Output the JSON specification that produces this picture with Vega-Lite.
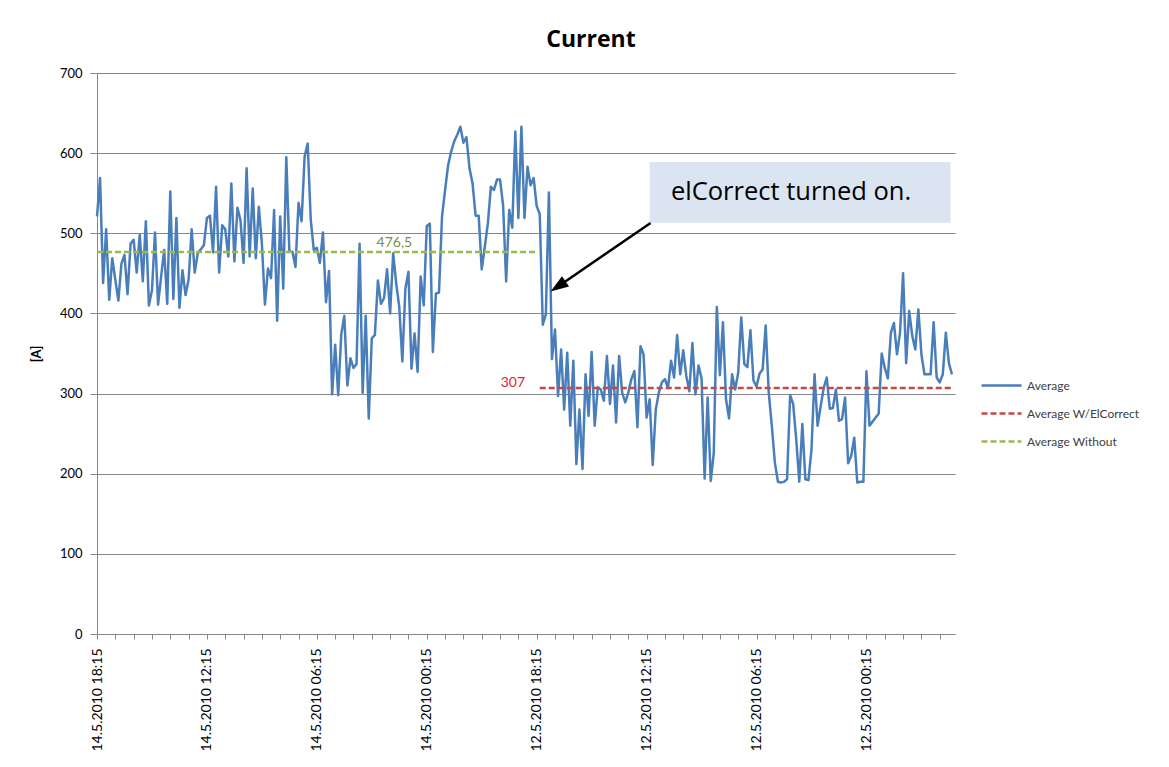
{
 "$schema": "https://vega.github.io/schema/vega-lite/v6.json",
 "width": 858,
 "height": 561,
 "autosize": {"type": "none"},
 "padding": {"left": 97, "top": 73, "right": 214, "bottom": 133},
 "background": "white",
 "title": {"text": "Current", "font": "Open Sans", "fontSize": 23, "fontWeight": "bold", "color": "#000000", "anchor": "middle", "dx": 65, "dy": 29, "baseline": "alphabetic", "offset": 26},
 "config": {"view": {"stroke": null}, "font": "Lato"},
 "datasets": {
  "cur": [
{"i":0,"v":521,"s":"Average"},{"i":1,"v":569,"s":"Average"},{"i":2,"v":438,"s":"Average"},{"i":3,"v":505,"s":"Average"},{"i":4,"v":417,"s":"Average"},{"i":5,"v":469,"s":"Average"},{"i":6,"v":442,"s":"Average"},{"i":7,"v":416,"s":"Average"},{"i":8,"v":462,"s":"Average"},{"i":9,"v":473,"s":"Average"},
{"i":10,"v":424,"s":"Average"},{"i":11,"v":487,"s":"Average"},{"i":12,"v":492,"s":"Average"},{"i":13,"v":451,"s":"Average"},{"i":14,"v":498,"s":"Average"},{"i":15,"v":440,"s":"Average"},{"i":16,"v":515,"s":"Average"},{"i":17,"v":410,"s":"Average"},{"i":18,"v":429,"s":"Average"},{"i":19,"v":501,"s":"Average"},
{"i":20,"v":411,"s":"Average"},{"i":21,"v":446,"s":"Average"},{"i":22,"v":479,"s":"Average"},{"i":23,"v":412,"s":"Average"},{"i":24,"v":552,"s":"Average"},{"i":25,"v":418,"s":"Average"},{"i":26,"v":519,"s":"Average"},{"i":27,"v":407,"s":"Average"},{"i":28,"v":454,"s":"Average"},{"i":29,"v":423,"s":"Average"},
{"i":30,"v":442,"s":"Average"},{"i":31,"v":505,"s":"Average"},{"i":32,"v":451,"s":"Average"},{"i":33,"v":475,"s":"Average"},{"i":34,"v":480,"s":"Average"},{"i":35,"v":485,"s":"Average"},{"i":36,"v":519,"s":"Average"},{"i":37,"v":522,"s":"Average"},{"i":38,"v":476,"s":"Average"},{"i":39,"v":558,"s":"Average"},
{"i":40,"v":451,"s":"Average"},{"i":41,"v":510,"s":"Average"},{"i":42,"v":505,"s":"Average"},{"i":43,"v":471,"s":"Average"},{"i":44,"v":562,"s":"Average"},{"i":45,"v":465,"s":"Average"},{"i":46,"v":532,"s":"Average"},{"i":47,"v":516,"s":"Average"},{"i":48,"v":463,"s":"Average"},{"i":49,"v":581,"s":"Average"},
{"i":50,"v":471,"s":"Average"},{"i":51,"v":556,"s":"Average"},{"i":52,"v":469,"s":"Average"},{"i":53,"v":533,"s":"Average"},{"i":54,"v":487,"s":"Average"},{"i":55,"v":411,"s":"Average"},{"i":56,"v":456,"s":"Average"},{"i":57,"v":444,"s":"Average"},{"i":58,"v":529,"s":"Average"},{"i":59,"v":391,"s":"Average"},
{"i":60,"v":521,"s":"Average"},{"i":61,"v":431,"s":"Average"},{"i":62,"v":595,"s":"Average"},{"i":63,"v":477,"s":"Average"},{"i":64,"v":477,"s":"Average"},{"i":65,"v":458,"s":"Average"},{"i":66,"v":538,"s":"Average"},{"i":67,"v":515,"s":"Average"},{"i":68,"v":596,"s":"Average"},{"i":69,"v":612,"s":"Average"},
{"i":70,"v":517,"s":"Average"},{"i":71,"v":479,"s":"Average"},{"i":72,"v":482,"s":"Average"},{"i":73,"v":463,"s":"Average"},{"i":74,"v":501,"s":"Average"},{"i":75,"v":414,"s":"Average"},{"i":76,"v":453,"s":"Average"},{"i":77,"v":299,"s":"Average"},{"i":78,"v":361,"s":"Average"},{"i":79,"v":298,"s":"Average"},
{"i":80,"v":374,"s":"Average"},{"i":81,"v":397,"s":"Average"},{"i":82,"v":310,"s":"Average"},{"i":83,"v":344,"s":"Average"},{"i":84,"v":332,"s":"Average"},{"i":85,"v":337,"s":"Average"},{"i":86,"v":487,"s":"Average"},{"i":87,"v":301,"s":"Average"},{"i":88,"v":397,"s":"Average"},{"i":89,"v":269,"s":"Average"},
{"i":90,"v":369,"s":"Average"},{"i":91,"v":373,"s":"Average"},{"i":92,"v":441,"s":"Average"},{"i":93,"v":412,"s":"Average"},{"i":94,"v":419,"s":"Average"},{"i":95,"v":455,"s":"Average"},{"i":96,"v":400,"s":"Average"},{"i":97,"v":475,"s":"Average"},{"i":98,"v":437,"s":"Average"},{"i":99,"v":408,"s":"Average"},
{"i":100,"v":340,"s":"Average"},{"i":101,"v":431,"s":"Average"},{"i":102,"v":452,"s":"Average"},{"i":103,"v":331,"s":"Average"},{"i":104,"v":375,"s":"Average"},{"i":105,"v":327,"s":"Average"},{"i":106,"v":446,"s":"Average"},{"i":107,"v":410,"s":"Average"},{"i":108,"v":509,"s":"Average"},{"i":109,"v":512,"s":"Average"},
{"i":110,"v":352,"s":"Average"},{"i":111,"v":425,"s":"Average"},{"i":112,"v":426,"s":"Average"},{"i":113,"v":521,"s":"Average"},{"i":114,"v":554,"s":"Average"},{"i":115,"v":585,"s":"Average"},{"i":116,"v":602,"s":"Average"},{"i":117,"v":615,"s":"Average"},{"i":118,"v":623,"s":"Average"},{"i":119,"v":633,"s":"Average"},
{"i":120,"v":613,"s":"Average"},{"i":121,"v":620,"s":"Average"},{"i":122,"v":581,"s":"Average"},{"i":123,"v":562,"s":"Average"},{"i":124,"v":522,"s":"Average"},{"i":125,"v":522,"s":"Average"},{"i":126,"v":455,"s":"Average"},{"i":127,"v":483,"s":"Average"},{"i":128,"v":512,"s":"Average"},{"i":129,"v":558,"s":"Average"},
{"i":130,"v":554,"s":"Average"},{"i":131,"v":567,"s":"Average"},{"i":132,"v":567,"s":"Average"},{"i":133,"v":535,"s":"Average"},{"i":134,"v":440,"s":"Average"},{"i":135,"v":529,"s":"Average"},{"i":136,"v":507,"s":"Average"},{"i":137,"v":627,"s":"Average"},{"i":138,"v":519,"s":"Average"},{"i":139,"v":633,"s":"Average"},
{"i":140,"v":519,"s":"Average"},{"i":141,"v":583,"s":"Average"},{"i":142,"v":560,"s":"Average"},{"i":143,"v":569,"s":"Average"},{"i":144,"v":534,"s":"Average"},{"i":145,"v":524,"s":"Average"},{"i":146,"v":386,"s":"Average"},{"i":147,"v":399,"s":"Average"},{"i":148,"v":551,"s":"Average"},{"i":149,"v":343,"s":"Average"},
{"i":150,"v":380,"s":"Average"},{"i":151,"v":297,"s":"Average"},{"i":152,"v":355,"s":"Average"},{"i":153,"v":280,"s":"Average"},{"i":154,"v":351,"s":"Average"},{"i":155,"v":260,"s":"Average"},{"i":156,"v":341,"s":"Average"},{"i":157,"v":212,"s":"Average"},{"i":158,"v":280,"s":"Average"},{"i":159,"v":206,"s":"Average"},
{"i":160,"v":324,"s":"Average"},{"i":161,"v":272,"s":"Average"},{"i":162,"v":352,"s":"Average"},{"i":163,"v":260,"s":"Average"},{"i":164,"v":308,"s":"Average"},{"i":165,"v":305,"s":"Average"},{"i":166,"v":291,"s":"Average"},{"i":167,"v":347,"s":"Average"},{"i":168,"v":287,"s":"Average"},{"i":169,"v":335,"s":"Average"},
{"i":170,"v":264,"s":"Average"},{"i":171,"v":347,"s":"Average"},{"i":172,"v":301,"s":"Average"},{"i":173,"v":289,"s":"Average"},{"i":174,"v":301,"s":"Average"},{"i":175,"v":318,"s":"Average"},{"i":176,"v":328,"s":"Average"},{"i":177,"v":258,"s":"Average"},{"i":178,"v":359,"s":"Average"},{"i":179,"v":349,"s":"Average"},
{"i":180,"v":270,"s":"Average"},{"i":181,"v":293,"s":"Average"},{"i":182,"v":211,"s":"Average"},{"i":183,"v":280,"s":"Average"},{"i":184,"v":301,"s":"Average"},{"i":185,"v":314,"s":"Average"},{"i":186,"v":318,"s":"Average"},{"i":187,"v":307,"s":"Average"},{"i":188,"v":341,"s":"Average"},{"i":189,"v":320,"s":"Average"},
{"i":190,"v":373,"s":"Average"},{"i":191,"v":324,"s":"Average"},{"i":192,"v":354,"s":"Average"},{"i":193,"v":322,"s":"Average"},{"i":194,"v":303,"s":"Average"},{"i":195,"v":363,"s":"Average"},{"i":196,"v":299,"s":"Average"},{"i":197,"v":335,"s":"Average"},{"i":198,"v":319,"s":"Average"},{"i":199,"v":194,"s":"Average"},
{"i":200,"v":295,"s":"Average"},{"i":201,"v":191,"s":"Average"},{"i":202,"v":226,"s":"Average"},{"i":203,"v":408,"s":"Average"},{"i":204,"v":323,"s":"Average"},{"i":205,"v":389,"s":"Average"},{"i":206,"v":293,"s":"Average"},{"i":207,"v":269,"s":"Average"},{"i":208,"v":324,"s":"Average"},{"i":209,"v":305,"s":"Average"},
{"i":210,"v":326,"s":"Average"},{"i":211,"v":395,"s":"Average"},{"i":212,"v":337,"s":"Average"},{"i":213,"v":333,"s":"Average"},{"i":214,"v":379,"s":"Average"},{"i":215,"v":316,"s":"Average"},{"i":216,"v":309,"s":"Average"},{"i":217,"v":325,"s":"Average"},{"i":218,"v":330,"s":"Average"},{"i":219,"v":385,"s":"Average"},
{"i":220,"v":301,"s":"Average"},{"i":221,"v":260,"s":"Average"},{"i":222,"v":214,"s":"Average"},{"i":223,"v":190,"s":"Average"},{"i":224,"v":189,"s":"Average"},{"i":225,"v":190,"s":"Average"},{"i":226,"v":193,"s":"Average"},{"i":227,"v":298,"s":"Average"},{"i":228,"v":287,"s":"Average"},{"i":229,"v":243,"s":"Average"},
{"i":230,"v":190,"s":"Average"},{"i":231,"v":262,"s":"Average"},{"i":232,"v":193,"s":"Average"},{"i":233,"v":192,"s":"Average"},{"i":234,"v":230,"s":"Average"},{"i":235,"v":324,"s":"Average"},{"i":236,"v":260,"s":"Average"},{"i":237,"v":284,"s":"Average"},{"i":238,"v":307,"s":"Average"},{"i":239,"v":320,"s":"Average"},
{"i":240,"v":281,"s":"Average"},{"i":241,"v":282,"s":"Average"},{"i":242,"v":305,"s":"Average"},{"i":243,"v":266,"s":"Average"},{"i":244,"v":268,"s":"Average"},{"i":245,"v":295,"s":"Average"},{"i":246,"v":213,"s":"Average"},{"i":247,"v":222,"s":"Average"},{"i":248,"v":245,"s":"Average"},{"i":249,"v":189,"s":"Average"},
{"i":250,"v":190,"s":"Average"},{"i":251,"v":190,"s":"Average"},{"i":252,"v":328,"s":"Average"},{"i":253,"v":260,"s":"Average"},{"i":254,"v":265,"s":"Average"},{"i":255,"v":270,"s":"Average"},{"i":256,"v":275,"s":"Average"},{"i":257,"v":350,"s":"Average"},{"i":258,"v":332,"s":"Average"},{"i":259,"v":319,"s":"Average"},
{"i":260,"v":376,"s":"Average"},{"i":261,"v":388,"s":"Average"},{"i":262,"v":349,"s":"Average"},{"i":263,"v":376,"s":"Average"},{"i":264,"v":450,"s":"Average"},{"i":265,"v":338,"s":"Average"},{"i":266,"v":403,"s":"Average"},{"i":267,"v":372,"s":"Average"},{"i":268,"v":355,"s":"Average"},{"i":269,"v":405,"s":"Average"},
{"i":270,"v":349,"s":"Average"},{"i":271,"v":324,"s":"Average"},{"i":272,"v":324,"s":"Average"},{"i":273,"v":324,"s":"Average"},{"i":274,"v":389,"s":"Average"},{"i":275,"v":320,"s":"Average"},{"i":276,"v":314,"s":"Average"},{"i":277,"v":324,"s":"Average"},{"i":278,"v":376,"s":"Average"},{"i":279,"v":338,"s":"Average"},
{"i":280,"v":324,"s":"Average"},
{"i":145,"v":307,"s":"Average W/ElCorrect"},{"i":280,"v":307,"s":"Average W/ElCorrect"},
{"i":0,"v":476.5,"s":"Average Without"},{"i":144,"v":476.5,"s":"Average Without"}
  ],
  "lbl": [
   {"i": 97.4, "v": 483.3, "t": "476,5"},
   {"i": 136.2, "v": 308.6, "t": "307"}
  ],
  "box": [{"i": 181.0, "i2": 279.5, "v": 513, "v2": 589}],
  "note": [{"i": 227.3, "v": 541.5, "t": "elCorrect turned on."}],
  "arrow": [{"i": 181.3, "v": 512.9, "i2": 151.0, "v2": 433.7}],
  "head": [{"i": 151.0, "v": 433.7}]
 },
 "encoding": {
  "x": {"field": "i", "type": "quantitative",
    "scale": {"domain": [0, 281], "nice": false, "zero": false},
    "axis": {"title": null,
      "values": [0,6,12,18,24,30,36,42,48,54,60,66,72,78,84,90,96,102,108,114,120,126,132,138,144,150,156,162,168,174,180,186,192,198,204,210,216,222,228,234,240,246,252,258,264,270,276],
      "labelExpr": "datum.value == 0 ? '14.5.2010 18:15' : datum.value == 36 ? '14.5.2010 12:15' : datum.value == 72 ? '14.5.2010 06:15' : datum.value == 108 ? '14.5.2010 00:15' : datum.value == 144 ? '12.5.2010 18:15' : datum.value == 180 ? '12.5.2010 12:15' : datum.value == 216 ? '12.5.2010 06:15' : datum.value == 252 ? '12.5.2010 00:15' : ''",
      "labelAngle": 270, "labelAlign": "right", "labelBaseline": "middle", "labelPadding": 9,
      "labelFont": "Lato", "labelFontSize": 14, "labelColor": "#000000",
      "labelOverlap": false, "labelFlush": false, "labelBound": false,
      "tickSize": 5, "tickColor": "#868686", "domainColor": "#868686", "grid": false}},
  "y": {"field": "v", "type": "quantitative",
    "scale": {"domain": [0, 700], "nice": false, "zero": true},
    "axis": {"title": "[A]", "values": [0,100,200,300,400,500,600,700],
      "grid": true, "gridColor": "#868686", "gridWidth": 1,
      "tickSize": 7, "tickColor": "#868686", "domainColor": "#868686",
      "labelPadding": 8, "labelFont": "Lato", "labelFontSize": 13, "labelColor": "#000000",
      "titleFont": "Lato", "titleFontSize": 13, "titleFontWeight": "bold", "titleColor": "#000000",
      "titleX": -54, "titleY": 280.5, "titleAngle": 270, "titleAlign": "center", "titleBaseline": "bottom"}}
 },
 "layer": [
  {
   "data": {"name": "cur"},
   "mark": {"type": "line", "strokeWidth": 2.5, "strokeJoin": "round"},
   "encoding": {
    "color": {"field": "s", "type": "nominal",
      "scale": {"domain": ["Average", "Average W/ElCorrect", "Average Without"], "range": ["#4a7ebb", "#be4b48", "#98b954"]},
      "legend": {"title": null, "orient": "none", "legendX": 883, "legendY": 291, "symbolType": "stroke", "symbolSize": 1600, "symbolStrokeWidth": 2.5, "labelFont": "Lato", "labelFontSize": 12, "labelColor": "#404040", "labelOffset": 4, "rowPadding": -11.5, "padding": 0}},
    "strokeDash": {"field": "s", "type": "nominal",
      "scale": {"domain": ["Average", "Average W/ElCorrect", "Average Without"], "range": [[1, 0], [6, 3], [6, 3]]},
      "legend": {"title": null, "orient": "none", "legendX": 883, "legendY": 291, "symbolType": "stroke", "symbolSize": 1600, "symbolStrokeWidth": 2.5, "labelFont": "Lato", "labelFontSize": 12, "labelColor": "#404040", "labelOffset": 4, "rowPadding": -11.5, "padding": 0}}
   }
  },
  {
   "data": {"name": "lbl"},
   "transform": [{"filter": "datum.t == '476,5'"}],
   "mark": {"type": "text", "font": "Lato", "fontSize": 14, "color": "#76923c", "align": "center", "baseline": "alphabetic"},
   "encoding": {"text": {"field": "t"}}
  },
  {
   "data": {"name": "lbl"},
   "transform": [{"filter": "datum.t == '307'"}],
   "mark": {"type": "text", "font": "Lato", "fontSize": 14, "color": "#e0262d", "align": "center", "baseline": "alphabetic"},
   "encoding": {"text": {"field": "t"}}
  },
  {
   "data": {"name": "box"},
   "mark": {"type": "rect", "color": "#dbe5f1"},
   "encoding": {"x2": {"field": "i2"}, "y2": {"field": "v2"}}
  },
  {
   "data": {"name": "note"},
   "mark": {"type": "text", "font": "Open Sans", "fontSize": 25.5, "color": "#000000", "align": "center", "baseline": "alphabetic"},
   "encoding": {"text": {"field": "t"}}
  },
  {
   "data": {"name": "arrow"},
   "mark": {"type": "rule", "color": "#000000", "strokeWidth": 2.5},
   "encoding": {"x2": {"field": "i2"}, "y2": {"field": "v2"}}
  },
  {
   "data": {"name": "head"},
   "mark": {"type": "point", "shape": "M0,-1L0.7,1L-0.7,1Z", "size": 324, "filled": true, "color": "#000000", "opacity": 1, "angle": 236, "strokeWidth": 0},
   "encoding": {}
  }
 ]
}
